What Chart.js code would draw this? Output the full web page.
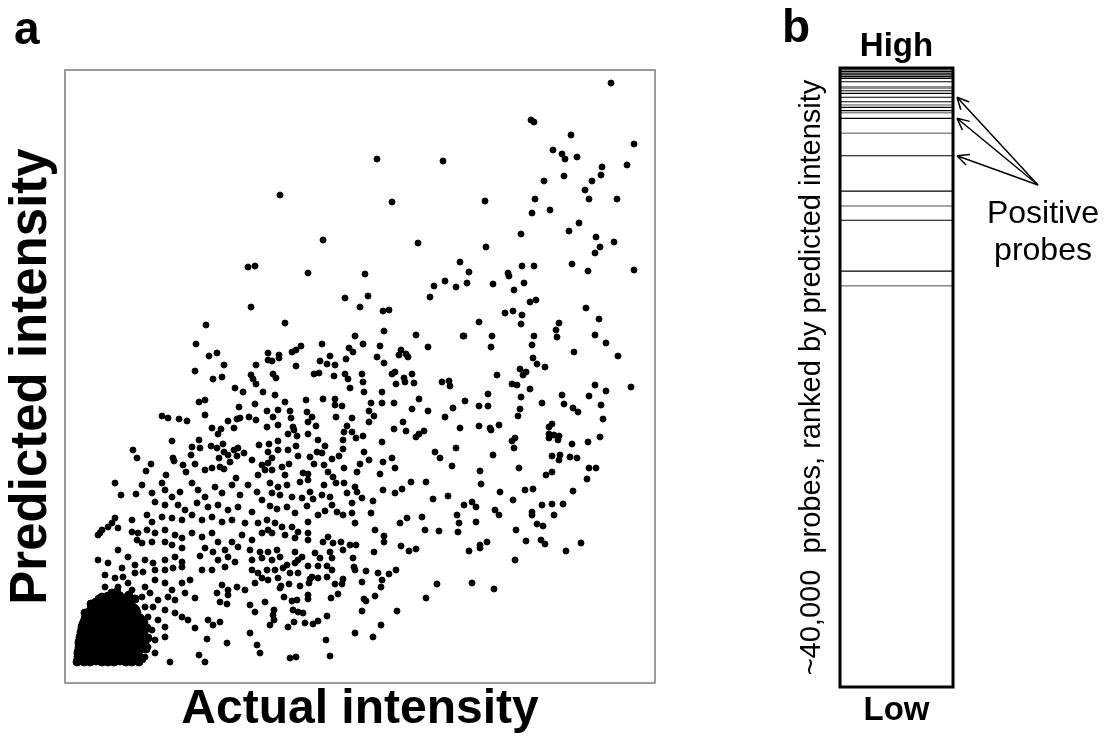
<!DOCTYPE html>
<html>
<head>
<meta charset="utf-8">
<title>Predicted vs actual intensity</title>
<script src="https://cdn.jsdelivr.net/npm/chart.js@4.4.1/dist/chart.umd.min.js"></script>
<style>
  html, body { margin: 0; padding: 0; background: #fff; }
  #wrap { position: relative; width: 1111px; height: 743px; overflow: hidden; }
  #scatterChart { position: absolute; left: 0; top: 0; }
  #rankChart { position: absolute; left: 780px; top: 0; }
</style>
</head>
<body>
<div id="wrap">
  <canvas id="scatterChart" width="700" height="743"></canvas>
  <canvas id="rankChart" width="331" height="743"></canvas>
</div>
<script>
// ---- panel a: probes as [actual, predicted] (arbitrary units) ----
const sparseHigh = [
  [183,416],[190,417],
  [312,524],[378,522],[215,488],[327,481],[258,443],[353,440],[395,421],[243,410],[300,409],
  [546,600],[466,563],[469,561],[506,548],[569,539],[488,533],[497,529],[500,524],[512,526],
  [537,516],[562,518],[536,508],[499,507],[479,502],[527,502],[520,493],[420,482],[470,484],
  [524,484],[552,484],[485,473],[467,470],[514,460],[504,452],[456,449],[531,446],[549,441],
  [421,436],[535,436],[530,430],[404,411],[457,417],[469,417],[507,419],[443,410],[523,412],[569,413]
];

const midCloud = [
  [186,376],[141,358],[131,339],[144,327],[152,330],[159,318],[191,318],[130,312],[148,304],[157,306],
  [186,308],[188,304],[191,299],[170,295],[178,291],[198,291],[134,281],[140,283],[190,279],[174,276],
  [97,267],[103,265],[114,264],[122,262],[140,268],[163,262],[172,264],[175,265],[184,266],[191,263],
  [147,255],[156,254],[153,249],[169,255],[107,242],[134,243],[68,233],[72,225],[86,219],[81,212],
  [101,208],[108,225],[109,222],[127,236],[126,228],[135,235],[146,237],[152,235],[158,239],[154,225],
  [159,231],[163,228],[169,233],[173,235],[179,230],[172,227],[187,223],[194,238],[118,218],[130,219],
  [121,211],[140,213],[147,215],[155,216],[165,221],[159,214],[171,205],[197,218],[193,208],
  [369,397],[380,402],[391,396],[365,386],[280,385],[303,387],[295,376],[318,372],[324,373],[220,360],
  [319,352],[290,347],[351,348],[398,347],[236,337],[257,339],[298,339],[315,337],[363,336],[203,330],
  [214,328],[214,325],[227,331],[231,333],[284,335],[288,331],[336,333],[334,328],[341,329],[343,326],
  [265,327],[312,326],[255,322],[262,319],[270,318],[281,324],[319,320],[203,323],[207,322],[231,317],
  [249,309],[254,310],[269,307],[280,309],[283,304],[297,309],[298,301],[327,309],[330,311],[339,305],
  [340,301],[347,309],[349,300],[331,299],[377,301],[384,302],[385,297],[208,309],[211,305],[285,295],
  [299,291],[317,291],[210,288],[220,281],[241,283],[258,284],[270,284],[270,278],[277,277],[306,280],
  [317,280],[329,280],[354,284],[347,274],[363,272],[380,266],[388,275],[400,282],[202,272],[213,273],
  [225,272],[242,271],[208,266],[226,265],[243,261],[247,266],[271,266],[287,265],[304,272],[309,267],
  [304,261],[338,261],[329,254],[341,252],[351,246],[354,249],[359,252],[395,255],[202,256],[213,258],
  [228,256],[229,253],[251,257],[282,257],[287,251],[279,251],[223,249],[232,247],[243,249],[291,245],
  [298,247],[278,243],[253,243],[213,242],[204,239],[317,241],[231,237],[260,237],[278,234],[299,231],
  [223,233],[213,233],[203,231],[252,231],[257,230],[370,231],[391,235],[375,225],[233,227],[245,226],
  [267,224],[274,227],[327,225],[304,223],[318,221],[207,225],[203,220],[217,216],[224,219],[249,219],
  [259,218],[279,215],[295,219],[330,215],[387,217],[238,210],[243,209],[263,211],[268,206],[292,211],
  [315,209],[207,213],[200,213],[220,208],
  [402,400],[428,399],[444,407],[449,393],[459,400],[465,381],[471,383],[440,370],[448,372],[457,368],
  [456,359],[414,361],[521,375],[534,364],[494,360],[491,353],[492,346],[530,348],[541,340],[399,347],
  [427,347],[426,336],[469,347],[467,338],[509,331],[553,327],[468,325],[472,319],[480,316],[455,314],
  [461,311],[458,308],[432,308],[447,299],[452,298],[465,294],[530,298],[541,292],[566,296],[423,289],
  [456,286],[497,288],[524,287],[414,277],[423,277],[477,280],[499,279],[508,275],[513,271],[536,278],
  [455,274],[453,267],[538,264],[414,257],[425,255],[426,253],[434,258],[487,259],[484,256],[484,249],
  [489,248],[494,247],[484,245],[493,243],[447,242],[450,245],[449,235],[507,239],[523,241],[535,246],
  [428,228],[487,227],[495,228],[494,223],[505,226],[512,225],[415,212],[454,215],[524,215],[531,215],
  [481,208],[487,211],[522,204]
];

const lowCloud = [
  [416,199],[435,191],[460,193],[468,194],[508,192],[399,178],[407,181],[411,176],[448,183],[430,173],
  [434,168],[467,171],[467,168],[477,178],[487,179],[498,179],[489,168],[392,168],[394,160],[393,151],
  [411,161],[472,159],[478,157],[451,153],[461,142],[476,143],[480,139],[422,141],[415,138],[415,135],
  [404,132],[450,123],[501,132],[516,140],[407,100],[429,94],
  [318,193],[330,190],[337,194],[361,201],[346,201],[368,184],[383,187],[308,182],[297,185],[306,170],
  [335,160],[342,165],[357,166],[360,153],[374,152],[310,153],[319,147],[319,141],[336,137],[344,132],
  [351,134],[309,131],[288,125],[289,116],[290,113],[301,112],[313,110],[324,109],[331,113],[317,103],
  [316,96],[297,101],[372,99],[361,85],[310,87],[299,84],[301,82],[297,72],[332,72],[316,58],
  [290,50],[308,46],[262,67],[261,43],[265,27],[225,25],[231,26],[273,89],[266,85],[278,104],
  [270,99],[277,99],[262,106],[253,105],[245,104],[244,100],[235,97],[224,99],[216,97],[215,95],
  [243,88],[243,84],[219,86],[227,82],[232,83],[228,73],[233,71],[238,70],[209,73],[208,68],
  [209,63],[205,58],[223,56],[229,61],[240,60],[248,59],[253,62],[200,81],
  [205,200],[213,196],[222,198],[235,201],[243,203],[259,198],[271,200],[279,200],[290,196],[292,191],
  [207,190],[215,188],[227,186],[237,185],[245,191],[248,184],[257,188],[265,186],[282,190],[287,180],
  [205,177],[212,174],[222,176],[230,170],[242,177],[253,168],[260,172],[267,178],[272,171],[278,168],
  [287,170],[290,160],[202,163],[210,160],[217,156],[227,156],[243,161],[203,153],[207,150],[220,148],
  [233,151],[243,150],[243,143],[230,145],[258,141],[263,146],[268,140],[276,141],[285,138],[291,138],
  [203,131],[212,133],[215,126],[230,131],[237,126],[250,130],[255,125],[265,131],[267,125],[278,133],
  [207,123],[222,118],[230,120],[233,123],[243,117],[253,117],[262,117],[267,113],[202,113],[210,113],
  [218,115],[233,110],[247,106],[203,103],[213,105],[225,110],
  [50,200],[56,188],[71,189],[77,198],[87,190],[97,200],[100,193],[90,181],[100,178],[107,186],
  [115,191],[127,200],[133,193],[140,186],[150,196],[157,190],[167,198],[175,188],[183,198],[192,191],
  [197,183],[113,178],[120,173],[132,180],[143,176],[153,178],[163,173],[173,176],[187,171],[82,168],
  [87,161],[97,166],[107,165],[117,163],[127,168],[137,163],[147,166],[157,161],[167,163],[180,160],
  [193,160],[50,165],[67,163],[43,156],[37,153],[33,148],[53,155],[67,151],[73,150],[72,143],
  [82,153],[90,150],[100,153],[110,148],[117,145],[127,150],[137,146],[147,150],[153,141],[167,141],
  [177,148],[187,143],[197,150],[77,140],[87,141],[100,141],[107,138],[117,135],[140,135],[148,131],
  [160,133],[173,136],[185,133],[195,131],[53,133],[63,126],[33,123],[43,120],[57,115],[70,118],
  [80,123],[88,120],[100,123],[110,126],[117,121],[135,127],[153,123],[163,126],[170,121],[187,123],
  [197,125],[40,108],[50,105],[58,106],[70,110],[78,111],[90,113],[100,113],[108,115],[117,116],
  [137,113],[147,113],[160,116],[187,113],[193,110],[40,96],[53,96],[63,100],[67,93],[80,96],
  [90,103],[100,100],[107,93],[117,100],[125,103],[157,98],[163,93],[172,96],[180,93],[190,100],
  [197,105],[77,86],[85,90],[93,83],[103,86],[110,83],[120,90],[130,85],[152,90],[163,88],
  [155,81],[162,79],[185,78],[190,71],[80,76],[88,76],[100,73],[110,70],[117,66],[123,63],
  [83,66],[93,63],[100,56],[130,55],[143,63],[148,58],[155,61],[87,53],[80,46],[90,43],
  [100,46],[142,44],[162,40],[185,50],[192,38],[195,30],[134,28],[140,21],[105,21],[83,36],
  [90,30],[80,26],[47,160],[35,150]
];

// the saturated blob of weak probes in the lower left corner
const denseCore = [
  [37,86],[43,87],[49,86],[55,87],[60,85],
  [31,81],[37,82],[43,81],[49,81],[55,82],[61,81],[66,80],
  [27,76],[33,77],[39,76],[45,76],[51,77],[57,76],[63,76],[69,75],
  [24,71],[30,71],[36,72],[42,71],[48,71],[54,71],[60,72],[66,71],[72,70],
  [21,66],[27,66],[33,67],[39,66],[45,66],[51,66],[57,67],[63,66],[69,66],[75,65],
  [19,61],[25,61],[31,61],[37,62],[43,61],[49,61],[55,61],[61,62],[67,61],[73,61],[79,60],
  [17,56],[22,56],[28,57],[34,56],[40,56],[46,56],[52,57],[58,56],[64,56],[70,56],[76,57],
  [16,51],[20,51],[26,51],[31,52],[37,51],[43,51],[49,51],[55,52],[61,51],[67,51],[73,51],[79,51],
  [15,46],[23,46],[29,47],[35,46],[40,46],[46,46],[52,47],[58,46],[64,46],[70,46],[76,47],
  [14,41],[20,41],[26,41],[32,42],[38,41],[44,41],[50,41],[55,42],[61,41],[67,41],[73,41],[80,40],
  [14,36],[17,36],[23,36],[29,37],[35,36],[41,36],[47,36],[53,37],[59,36],[65,36],[71,36],[77,35],
  [13,31],[20,31],[26,31],[32,32],[38,31],[44,31],[50,31],[56,32],[62,31],[68,31],[74,31],
  [13,26],[17,26],[23,26],[29,27],[35,26],[41,26],[47,26],[53,27],[59,26],[65,26],[71,26],
  [12,21],[19,21],[25,21],[31,22],[37,21],[43,21],[49,21],[55,22],[61,21],[67,21],
  [34,84],[46,84],[58,84],[30,79],[42,79],[54,79],[65,78],
  [26,74],[38,74],[50,74],[62,74],[71,73],[23,69],[35,69],[47,69],[59,69],[72,68],
  [20,64],[32,64],[44,64],[56,64],[68,64],[77,63],[18,59],[31,59],[43,59],[55,59],[67,59],[78,58],
  [17,54],[29,54],[41,54],[53,54],[65,54],[76,54],[16,49],[28,49],[40,49],[52,49],[64,49],[76,49],
  [15,44],[27,44],[39,44],[51,44],[63,44],[75,44],[14,39],[26,39],[38,39],[50,39],[62,39],[74,39],
  [14,34],[26,34],[38,34],[50,34],[62,34],[74,34],[13,29],[25,29],[37,29],[49,29],[61,29],[72,29],
  [13,24],[25,24],[37,24],[49,24],[61,24],[70,24],
  [64,88],[70,84],[52,91],[47,90],[82,55],[83,45],[81,34],[77,24],[74,21],[26,79],[20,70]
];

// ---- panel b: rank of each marked probe (1 = highest predicted) ----
const totalProbes = 40000;
const blackRanks = [130, 240, 340, 450, 560, 670, 890, 1470, 1640, 1890, 2180, 2540, 2760, 3250, 5670, 7950, 9840, 13120];
const grayRanks = [1210, 1310, 2390, 2890, 4220, 8920, 14070];
const positiveRanks = [1890, 3250, 5670];

Chart.defaults.font.family = "'Liberation Sans', Arial, sans-serif";
Chart.defaults.color = "#000";

// box round the plotting area
const frame = {
  id: "frame",
  afterDatasetsDraw(chart, args, opts) {
    const { ctx, chartArea: a } = chart;
    ctx.save();
    ctx.strokeStyle = opts.color;
    ctx.lineWidth = opts.width;
    ctx.strokeRect(a.left, a.top, a.right - a.left, a.bottom - a.top);
    ctx.restore();
  },
};

// panel letter (a / b)
const panelLetter = {
  id: "panelLetter",
  afterDraw(chart, args, opts) {
    const ctx = chart.ctx;
    ctx.save();
    ctx.font = "bold 46px 'Liberation Sans', Arial, sans-serif";
    ctx.fillStyle = "#000";
    ctx.fillText(opts.text, opts.x, opts.y);
    ctx.restore();
  },
};

// arrows from the label to the positive probes
const positiveArrows = {
  id: "positiveArrows",
  afterDraw(chart) {
    const { ctx, chartArea: a, scales } = chart;
    const tailX = a.right + 85;
    const tailY = a.top + 117;
    ctx.save();
    ctx.strokeStyle = "#000";
    ctx.lineWidth = 1.5;
    positiveRanks.forEach((r) => {
      const tipX = a.right + 4;
      const tipY = scales.y.getPixelForValue(r);
      const ang = Math.atan2(tipY - tailY, tipX - tailX);
      ctx.beginPath();
      ctx.moveTo(tailX, tailY);
      ctx.lineTo(tipX, tipY);
      [-0.45, 0.45].forEach((d) => {
        ctx.moveTo(tipX, tipY);
        ctx.lineTo(tipX - 13 * Math.cos(ang + d), tipY - 13 * Math.sin(ang + d));
      });
      ctx.stroke();
    });
    ctx.font = "32px 'Liberation Sans', Arial, sans-serif";
    ctx.textAlign = "center";
    ctx.fillStyle = "#000";
    ctx.fillText("Positive", a.right + 90, 223);
    ctx.fillText("probes", a.right + 90, 260);
    ctx.restore();
  },
};

const toPoints = (arr) => arr.map(([x, y]) => ({ x, y }));
const hidden = { ticks: { display: false }, grid: { display: false, drawTicks: false }, border: { display: false } };

// ==========================================
// PANEL A: scatter
// ==========================================
new Chart(document.getElementById("scatterChart"), {
  type: "scatter",
  data: {
    datasets: [
      {
        // overlapping dots in the corner: drawn a touch larger so the blob closes up
        data: toPoints(denseCore),
        backgroundColor: "#000",
        borderColor: "#000",
        pointRadius: 4,
        borderWidth: 1,
      },
      {
        data: toPoints([...sparseHigh, ...midCloud, ...lowCloud]),
        backgroundColor: "#000",
        borderColor: "#000",
        pointRadius: 3,
        borderWidth: 1,
      },
    ],
  },
  options: {
    responsive: false,
    animation: false,
    events: [],
    layout: { padding: { left: 0, top: 70, right: 45, bottom: 0.9 } },
    plugins: {
      legend: { display: false },
      tooltip: { enabled: false },
      frame: { color: "#7a7a7a", width: 1.5 },
      panelLetter: { text: "a", x: 14, y: 44 },
    },
    scales: {
      x: {
        type: "linear", min: 0, max: 590, ...hidden,
        title: { display: true, text: "Actual intensity", font: { size: 48, weight: "bold" }, padding: { top: -2.5, bottom: 4 } },
      },
      y: {
        type: "linear", min: 0, max: 613, ...hidden,
        title: { display: true, text: "Predicted intensity", font: { size: 51, weight: "bold" }, padding: { top: 1.4, bottom: 2.4 } },
      },
    },
  },
  plugins: [frame, panelLetter],
});

// ==========================================
// PANEL B: ranked probe list
// ==========================================
const rankLines = (ranks) => ranks.flatMap((r) => [{ x: 0, y: r }, { x: 1, y: r }, { x: 1, y: null }]);

new Chart(document.getElementById("rankChart"), {
  type: "scatter",
  data: {
    datasets: [
      { data: rankLines(grayRanks), showLine: true, spanGaps: false, borderColor: "#8a8a8a", borderWidth: 1.6, pointRadius: 0 },
      { data: rankLines(blackRanks), showLine: true, spanGaps: false, borderColor: "#000", borderWidth: 1.2, pointRadius: 0 },
    ],
  },
  options: {
    responsive: false,
    animation: false,
    events: [],
    layout: { padding: { left: 10, top: 22.7, right: 158, bottom: 8.7 } },
    plugins: {
      legend: { display: false },
      tooltip: { enabled: false },
      frame: { color: "#000", width: 3 },
      panelLetter: { text: "b", x: 2, y: 42 },
    },
    scales: {
      x: {
        type: "linear", min: 0, max: 1, position: "bottom", ...hidden,
        title: { display: true, text: "Low", font: { size: 33, weight: "bold" }, padding: { top: 3.7, bottom: 4 } },
      },
      xTop: {
        type: "linear", axis: "x", min: 0, max: 1, position: "top", ...hidden,
        title: { display: true, text: "High", font: { size: 33, weight: "bold" }, padding: { top: 4, bottom: 1.7 } },
      },
      y: {
        type: "linear", min: 0, max: totalProbes, reverse: true, ...hidden,
        title: { display: true, text: "~40,000  probes, ranked by predicted intensity", font: { size: 29 }, padding: { top: 4.6, bottom: 10.6 } },
      },
    },
  },
  plugins: [frame, panelLetter, positiveArrows],
});
</script>
</body>
</html>
